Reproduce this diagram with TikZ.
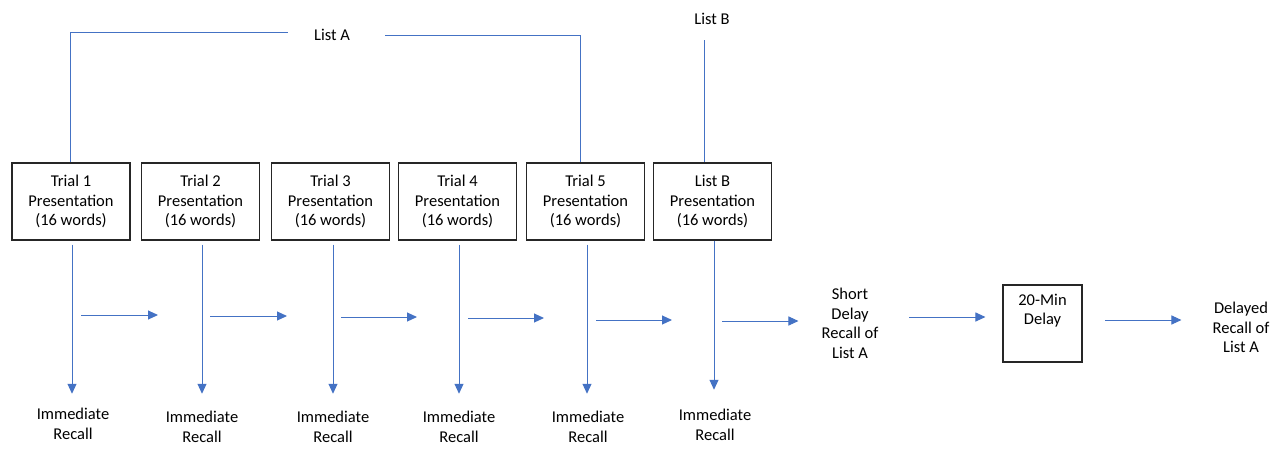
\documentclass[tikz,border=0pt]{standalone}
\usepackage{fontspec}
\setmainfont{Carlito}
\usetikzlibrary{arrows.meta}
\definecolor{lineblue}{HTML}{4472C4}
\definecolor{boxline}{HTML}{262626}
\begin{document}
\begin{tikzpicture}[x=1pt,y=-1pt,
  txt/.style={font=\fontsize{16.5}{19.5}\selectfont, align=center, inner sep=0pt},
  stagebox/.style={txt, draw=boxline, line width=1.1pt, minimum width=118pt, minimum height=77pt},
  conn/.style={draw=lineblue, line width=1pt},
  arr/.style={conn, -{Triangle[length=10pt,width=9pt]}}]
\useasboundingbox (0,0) rectangle (1271,448);
% boxes
\node[stagebox] (t1) at (71,201.5)  {Trial 1\\Presentation\\(16 words)};
\node[stagebox] (t2) at (200.5,201.5) {Trial 2\\Presentation\\(16 words)};
\node[stagebox] (t3) at (330.5,201.5) {Trial 3\\Presentation\\(16 words)};
\node[stagebox] (t4) at (457.5,201.5) {Trial 4\\Presentation\\(16 words)};
\node[stagebox] (t5) at (585.5,201.5) {Trial 5\\Presentation\\(16 words)};
\node[stagebox] (t6) at (712.5,201.5) {List B\\Presentation\\(16 words)};
% list labels
\node[txt] (la) at (332,35) {List A};
\node[txt] (lb) at (712,19) {List B};
% recall labels
\node[txt] (r1) at (73,424) {Immediate\\Recall};
\node[txt] (r2) at (202,427) {Immediate\\Recall};
\node[txt] (r3) at (333,427) {Immediate\\Recall};
\node[txt] (r4) at (459,427) {Immediate\\Recall};
\node[txt] (r5) at (588,427) {Immediate\\Recall};
\node[txt] (r6) at (715,425) {Immediate\\Recall};
\node[txt] (sd) at (850,323.5) {Short\\Delay\\Recall of\\List A};
\node[draw=boxline, line width=1.1pt, minimum width=79pt, minimum height=77pt, inner sep=0pt,
  label={[txt, anchor=north, yshift=-9pt]north:{20-Min\\Delay}}] (dl) at (1042.5,323.5) {};
\node[txt] (dr) at (1241,327.5) {Delayed\\Recall of\\List A};
% list A / list B connectors
\coordinate (laL) at (288,32.7);
\coordinate (laR) at (385,35.7);
\coordinate (lbtop) at (704,40);
\draw[conn] ([xshift=-1pt]t1.north) |- (laL);
\draw[conn] (laR) -| ([xshift=-5pt]t5.north);
\draw[conn] (lbtop) -- (lbtop |- t6.north);
% vertical arrows
\draw[arr] ([xshift=1pt,yshift=-4pt]t1.south) -- ([xshift=1pt,yshift=14.5pt]t1.south |- r1.north);
\foreach \i/\dx in {2/1.5,3/2.5,4/1.5,5/1.5}{
  \draw[arr] ([xshift=\dx pt,yshift=-4pt]t\i.south) -- ([xshift=\dx pt,yshift=17.5pt]t\i.south |- r\i.north);
}
\draw[arr] ([xshift=1.5pt]t6.south) -- ([xshift=1.5pt,yshift=19.5pt]t6.south |- r6.north);
% horizontal arrows
\coordinate (h1a) at (81,315);  \coordinate (h1b) at (158,315);
\coordinate (h2a) at (210,316); \coordinate (h2b) at (287,316);
\coordinate (h3a) at (341,317); \coordinate (h3b) at (417,317);
\coordinate (h4a) at (468,318); \coordinate (h4b) at (544,318);
\coordinate (h5a) at (596,320); \coordinate (h5b) at (672,320);
\coordinate (h6a) at (722,321);
\coordinate (h7a) at (909,317);
\coordinate (h8a) at (1105,320);
\foreach \i in {1,...,5}{ \draw[arr] (h\i a) -- (h\i b); }
\draw[arr] (h6a) -- ([xshift=-23pt]h6a -| sd.west);
\draw[arr] (h7a) -- ([xshift=-17pt]h7a -| dl.west);
\draw[arr] (h8a) -- ([xshift=-31pt]h8a -| dr.west);
\end{tikzpicture}
\end{document}
